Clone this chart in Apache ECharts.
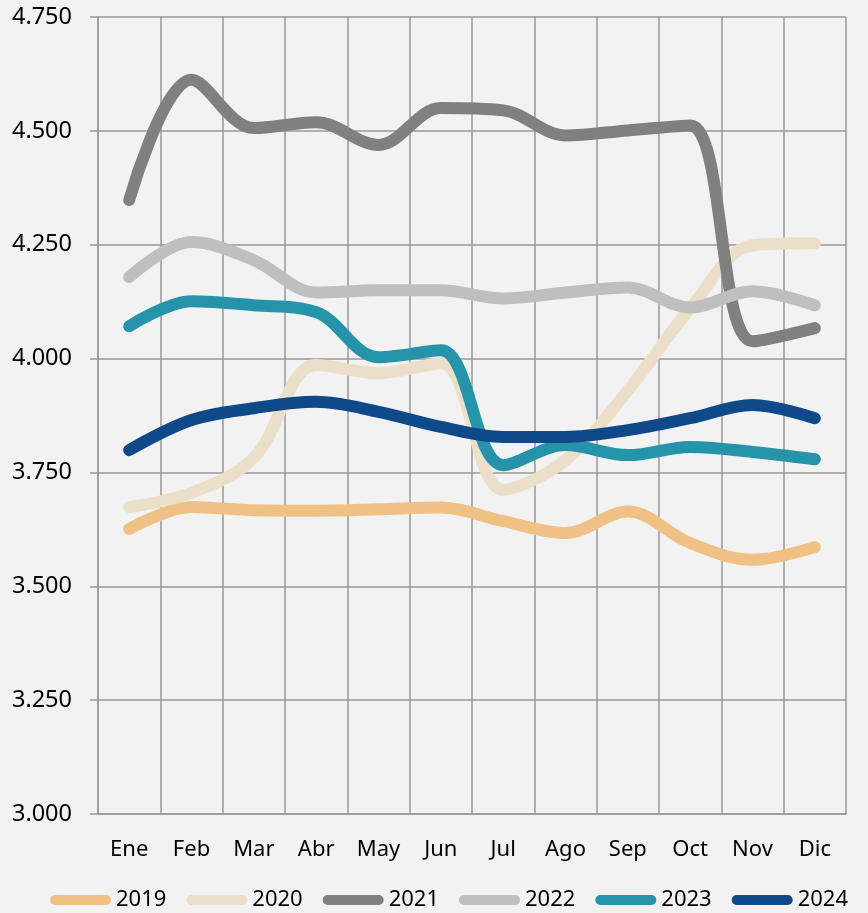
<!DOCTYPE html>
<html>
<head>
<meta charset="utf-8">
<script src="https://cdn.jsdelivr.net/npm/echarts@6/dist/echarts.min.js"></script>
<style>
  html, body { margin: 0; padding: 0; background: #f2f2f2; }
  #chart { width: 868px; height: 913px; }
</style>
</head>
<body>
<div id="chart"></div>
<script>
  const months = ['Ene', 'Feb', 'Mar', 'Abr', 'May', 'Jun', 'Jul', 'Ago', 'Sep', 'Oct', 'Nov', 'Dic'];

  const y2019 = [3626, 3674, 3667, 3666, 3669, 3673, 3643, 3617, 3664, 3595, 3558, 3586];
  const y2020 = [3674, 3705, 3782, 3986, 3968, 3990, 3712, 3777, 3930, 4110, 4249, 4253];
  const y2021 = [4348, 4612, 4506, 4519, 4469, 4550, 4545, 4490, 4501, 4512, 4038, 4067];
  const y2022 = [4179, 4256, 4216, 4145, 4150, 4150, 4132, 4145, 4156, 4112, 4148, 4117];
  const y2023 = [4071, 4126, 4117, 4102, 4003, 4018, 3766, 3810, 3788, 3806, 3795, 3779];
  const y2024 = [3799, 3865, 3891, 3905, 3883, 3850, 3828, 3828, 3843, 3869, 3898, 3869];

  const names = ['2019', '2020', '2021', '2022', '2023', '2024'];
  const values = [y2019, y2020, y2021, y2022, y2023, y2024];
  const colors = ['#efc185', '#ecdfc9', '#808080', '#bfbfbf', '#2594aa', '#0e4a8a'];

  const font = '"Noto Sans", "Open Sans", sans-serif';
  const pill = 'path://M5,0 H56 A5,5 0 0 1 56,10 H5 A5,5 0 0 1 5,0 Z';

  const chart = echarts.init(document.getElementById('chart'));
  chart.setOption({
    animation: false,
    backgroundColor: '#f2f2f2',
    color: colors,
    grid: { left: 98, right: 22, top: 17, bottom: 99 },
    legend: {
      top: 889,
      left: 50,
      padding: 0,
      itemWidth: 61,
      itemHeight: 10,
      itemGap: 20,
      icon: pill,
      textStyle: { color: '#000', fontSize: 22, fontFamily: font },
      data: names
    },
    xAxis: {
      type: 'category',
      data: months,
      boundaryGap: true,
      axisLine: { lineStyle: { color: '#999', width: 1.5 } },
      axisTick: { show: false },
      axisLabel: { color: '#000', fontSize: 22, fontFamily: font, margin: 25 },
      splitLine: { show: true, lineStyle: { color: '#999', width: 1.5 } }
    },
    yAxis: {
      type: 'value',
      min: 3000,
      max: 4750,
      interval: 250,
      axisLine: { show: true, lineStyle: { color: '#999', width: 1.5 } },
      axisTick: { show: true, length: 8, lineStyle: { color: '#999', width: 1.5 } },
      axisLabel: {
        color: '#000', fontSize: 23.5, fontFamily: font, margin: 26,
        formatter: v => String(v).replace(/\B(?=(\d{3})+(?!\d))/g, '.')
      },
      splitLine: { show: true, lineStyle: { color: '#999', width: 1.5 } }
    },
    series: names.map((n, i) => ({
      name: n,
      type: 'line',
      data: values[i],
      smooth: 0.35,
      showSymbol: false,
      lineStyle: { width: 12, color: colors[i], cap: 'round', join: 'round' }
    }))
  });
</script>
</body>
</html>
